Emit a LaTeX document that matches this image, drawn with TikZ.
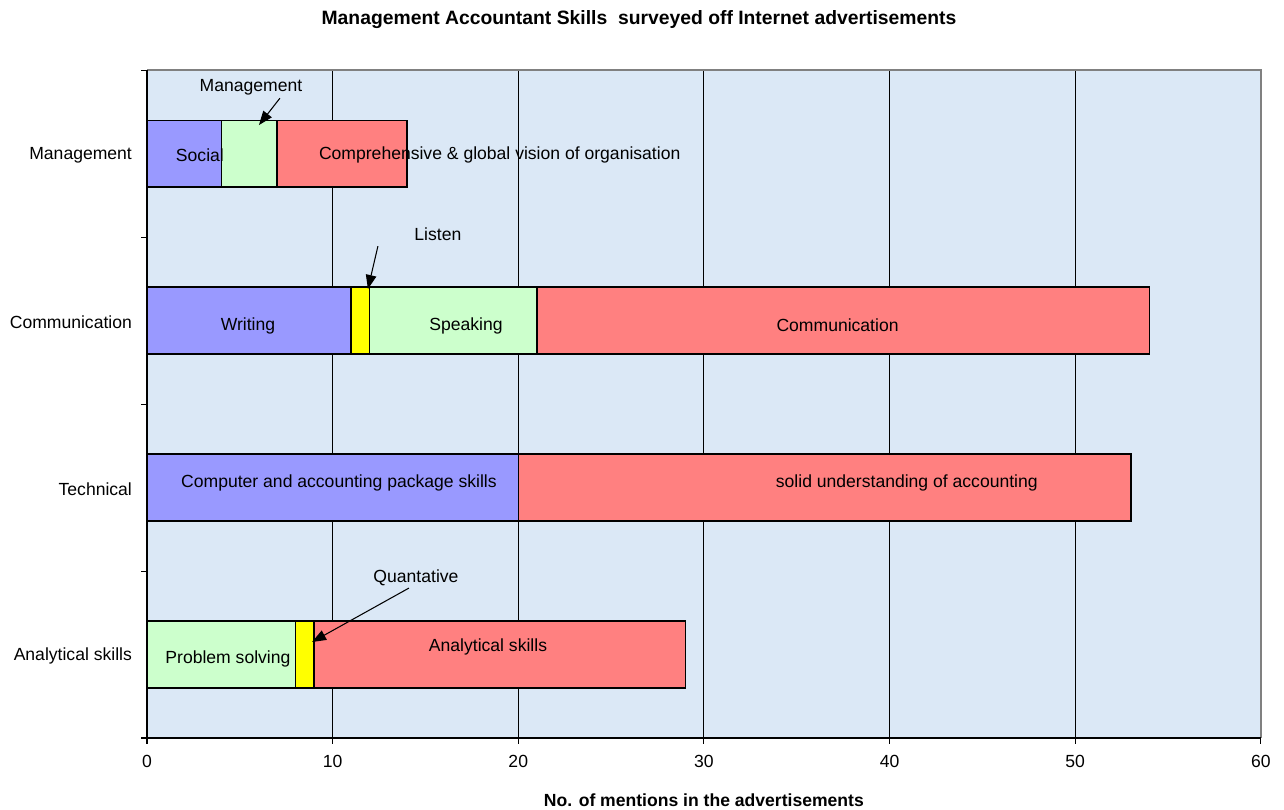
\documentclass[tikz,border=0pt]{standalone}
\usepackage{fontspec}
\setmainfont{Liberation Sans}
\usepackage{xcolor}
\usetikzlibrary{arrows.meta}
\definecolor{plotbg}{RGB}{219,232,246}
\definecolor{skillblue}{RGB}{153,153,255}
\definecolor{skillgreen}{RGB}{204,255,204}
\definecolor{skillred}{RGB}{255,128,128}
\definecolor{skillyellow}{RGB}{255,255,0}

\begin{document}
\begin{tikzpicture}[x=0.02cm,y=-0.02cm,
    every node/.style={font=\fontsize{10}{12}\selectfont,inner sep=1pt},
    seg/.style={draw=black,line width=0.8pt},
    callout/.style={-{Triangle[length=8pt,width=6pt]},line width=0.6pt},
    ticklab/.style={anchor=north}]
  \useasboundingbox (0,0) rectangle (1284,809);
  \node[font=\fontsize{11}{13}\selectfont\bfseries] (title) at (639,20) {Management Accountant Skills\ \ surveyed off Internet advertisements};
  \begin{scope}[shift={(147,738)},x=0.371334cm,y=3.34cm]
    % plot area
    \fill[plotbg] (0,0) rectangle (60,4);
    \foreach \v in {10,20,...,50}
      \draw[black,line width=0.5pt] (\v,0) -- (\v,4);
    \draw[gray,line width=0.8pt] (0,4) -- (60,4) -- (60,0);
    % bars: Management
    \draw[seg,fill=skillblue] (0,3.3) rectangle (4,3.7);
    \draw[seg,fill=skillgreen] (4,3.3) rectangle (7,3.7);
    \draw[seg,fill=skillred] (7,3.3) rectangle (14,3.7);
    % bars: Communication
    \draw[seg,fill=skillblue] (0,2.3) rectangle (11,2.7);
    \draw[seg,fill=skillyellow] (11,2.3) rectangle (12,2.7);
    \draw[seg,fill=skillgreen] (12,2.3) rectangle (21,2.7);
    \draw[seg,fill=skillred] (21,2.3) rectangle (54,2.7);
    % bars: Technical
    \draw[seg,fill=skillblue] (0,1.3) rectangle (20,1.7);
    \draw[seg,fill=skillred] (20,1.3) rectangle (53,1.7);
    % bars: Analytical skills
    \draw[seg,fill=skillgreen] (0,0.3) rectangle (8,0.7);
    \draw[seg,fill=skillyellow] (8,0.3) rectangle (9,0.7);
    \draw[seg,fill=skillred] (9,0.3) rectangle (29,0.7);
    % segment labels
    \node (social) at (2.85,3.49) {Social};
    \node (vision) at (19.0,3.49) {Comprehensive \& global vision of organisation};
    \node (writing) at (5.44,2.47) {Writing};
    \node (speaking) at (17.18,2.47) {Speaking};
    \node (commseg) at (37.2,2.47) {Communication};
    \node (computer) at (10.34,1.53) {Computer and accounting package skills};
    \node (solid) at (40.93,1.53) {solid understanding of accounting};
    \node (problem) at (4.36,0.475) {Problem solving};
    \node (analyseg) at (18.37,0.547) {Analytical skills};
    % callouts
    \node (mgnote) at (5.6,3.895) {Management};
    \coordinate (mgtail) at (7.16,3.832);
    \coordinate (mgtip) at (6.03,3.671);
    \draw[callout] (mgtail) -- (mgtip);
    \node (lsnote) at (15.67,3.015) {Listen};
    \coordinate (lstail) at (12.44,2.946);
    \coordinate (lstip) at (11.9,2.689);
    \draw[callout] (lstail) -- (lstip);
    \node (qnnote) at (14.49,0.96) {Quantative};
    \coordinate (qntail) at (14.11,0.898);
    \coordinate (qntip) at (8.89,0.575);
    \draw[callout] (qntail) -- (qntip);
    % axes
    \draw[black,line width=0.8pt] (0,4) -- (0,0) -- (60,0);
    \foreach \k in {0,...,4}
      \draw[black,line width=0.6pt] (0,\k) -- ++(-0.12cm,0);
    \foreach \v in {0,10,...,60} {
      \draw[black,line width=0.6pt] (\v,0) -- ++(0,-0.12cm);
      \node[ticklab] (tick\v) at ([yshift=-0.3cm]\v,0) {\v};
    }
    \node[anchor=east] (catmgmt) at ([xshift=-0.26cm]0,3.49) {Management};
    \node[anchor=east] (catcomm) at ([xshift=-0.26cm]0,2.49) {Communication};
    \node[anchor=east] (cattech) at ([xshift=-0.26cm]0,1.49) {Technical};
    \node[anchor=east] (catanal) at ([xshift=-0.26cm]0,0.49) {Analytical skills};
    \node[font=\fontsize{10}{12}\selectfont\bfseries] (xtitle) at ([yshift=-1.24cm]30,0) {No. of mentions in the advertisements};
  \end{scope}
\end{tikzpicture}
\end{document}
